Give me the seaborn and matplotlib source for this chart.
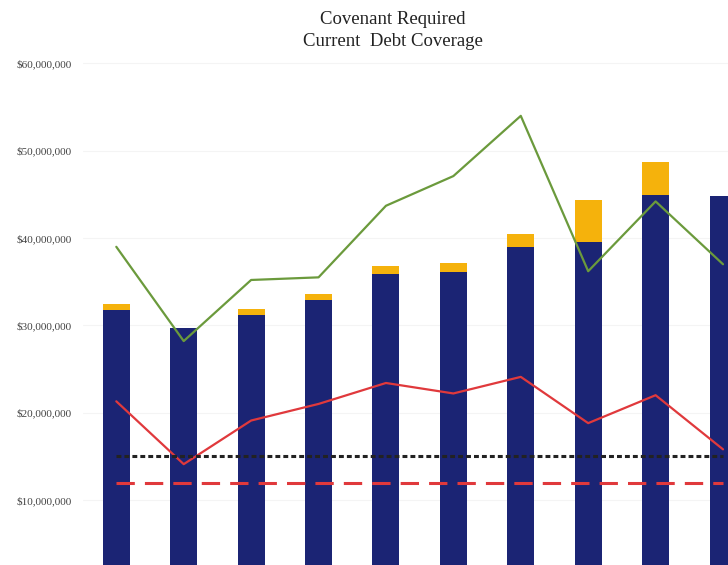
import matplotlib
matplotlib.use("Agg")
import matplotlib.pyplot as plt
import numpy as np
import pandas as pd
import seaborn as sns
from matplotlib.ticker import FuncFormatter

# data (values in dollars)
periods = ["P1", "P2", "P3", "P4", "P5", "P6", "P7", "P8", "P9", "P10"]
base_coverage = [31.8e6, 29.7e6, 31.2e6, 32.9e6, 35.9e6, 36.1e6, 39.0e6, 39.5e6, 44.9e6, 44.8e6]
extra_coverage = [0.6e6, 0.0, 0.7e6, 0.65e6, 0.9e6, 1.0e6, 1.5e6, 4.9e6, 3.8e6, 0.0]
green_series = [39.0e6, 28.2e6, 35.2e6, 35.5e6, 43.7e6, 47.1e6, 54.0e6, 36.2e6, 44.2e6, 37.0e6]
red_series = [21.3e6, 14.1e6, 19.1e6, 21.0e6, 23.4e6, 22.2e6, 24.1e6, 18.8e6, 22.0e6, 15.8e6]
covenant_black = [15.0e6] * 10
covenant_red = [12.0e6] * 10
yticks = [10e6, 20e6, 30e6, 40e6, 50e6, 60e6]

df = pd.DataFrame({
    "period": periods,
    "base": base_coverage,
    "total": np.array(base_coverage) + np.array(extra_coverage),
    "green": green_series,
    "red": red_series,
    "cov_black": covenant_black,
    "cov_red": covenant_red,
})
df["pos"] = np.arange(len(df))

sns.set_theme(style="white")
plt.rcParams["font.family"] = ["Liberation Serif", "DejaVu Serif"]

fig = plt.figure(figsize=(7.28, 5.65), dpi=100)
ax = fig.add_axes([83 / 728, 0.0, 645 / 728, 1.0])

# stacked bars: total (yellow) behind, base (navy) in front
sns.barplot(data=df, x="period", y="total", color="#f5b20c", width=0.40,
            saturation=1, linewidth=0, edgecolor="none", ax=ax, zorder=2)
sns.barplot(data=df, x="period", y="base", color="#1b2474", width=0.40,
            saturation=1, linewidth=0, edgecolor="none", ax=ax, zorder=3)

sns.lineplot(data=df, x="pos", y="green", color="#6b9a3c", lw=1.6, ax=ax, zorder=4)
sns.lineplot(data=df, x="pos", y="red", color="#e0393c", lw=1.6, ax=ax, zorder=4)
sns.lineplot(data=df, x="pos", y="cov_black", color="#222222", lw=2.2,
             linestyle=(0, (1.6, 1.0)), ax=ax, zorder=4)
sns.lineplot(data=df, x="pos", y="cov_red", color="#e0393c", lw=2.2,
             linestyle=(0, (6, 3.3)), ax=ax, zorder=4)

ax.set_xlim(-0.494, 9.074)
ax.set_ylim(2.55e6, 67.27e6)
ax.set_yticks(yticks)
ax.yaxis.set_major_formatter(FuncFormatter(lambda v, p: f"${v:,.0f}"))
ax.tick_params(axis="y", length=0, pad=8, labelsize=8, labelcolor="#444444")
ax.set_xticks([])
ax.set_xlabel("")
ax.set_ylabel("")
ax.grid(axis="y", color="#f4f4f4", lw=0.8, zorder=0)
for s in ax.spines.values():
    s.set_visible(False)

fig.text(393 / 728, 1 - 20 / 565, "Covenant Required", ha="center", va="center",
         fontsize=13.5, color="#222222")
fig.text(393 / 728, 1 - 41 / 565, "Current  Debt Coverage", ha="center", va="center",
         fontsize=13.5, color="#222222")

fig.savefig("out.png", dpi=100)
